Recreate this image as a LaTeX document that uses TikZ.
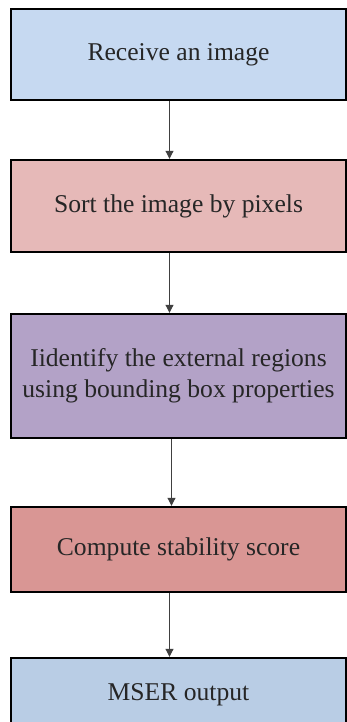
\documentclass[tikz,border=0pt]{standalone}
\usepackage{fontspec}
\setmainfont{Liberation Serif}
\usetikzlibrary{positioning,arrows.meta}
\definecolor{boxblue}{HTML}{C6D9F1}
\definecolor{boxpink}{HTML}{E6B9B8}
\definecolor{boxpurple}{HTML}{B3A2C7}
\definecolor{boxred}{HTML}{D99694}
\definecolor{boxsteel}{HTML}{B9CDE5}
\begin{document}
\begin{tikzpicture}[x=0.5pt,y=0.5pt,
  box/.style={draw,line width=1.2pt,minimum width=167.5pt,align=center,
    text=black!85,font=\fontsize{12.8}{15.5}\selectfont},
  arr/.style={-{Triangle[length=4pt,width=4pt]},line width=0.5pt,black!75}]
  \useasboundingbox (0,0) rectangle (347,722);
  \clip (0,0) rectangle (347,722);
  \node[box,fill=boxblue,minimum height=45.5pt] (receive) at (178.5,667.5) {Receive an image};
  \node[box,fill=boxpink,minimum height=46pt,below=28.8pt of receive] (sort) {Sort the image by pixels};
  \node[box,fill=boxpurple,minimum height=62pt,below=29.8pt of sort] (identify)
    {Iidentify the external regions\\using bounding box properties};
  \node[box,fill=boxred,minimum height=42.5pt,below=33.3pt of identify] (score) {Compute stability score};
  \node[box,fill=boxsteel,minimum height=37pt,below=31.8pt of score] (mser) {MSER output};
  % connectors
  \draw[arr] ([xshift=-4.5pt]receive.south) -- ([xshift=-4.5pt]sort.north);
  \draw[arr] ([xshift=-4.5pt]sort.south) -- ([xshift=-4.5pt]identify.north);
  \draw[arr] ([xshift=-3.5pt]identify.south) -- ([xshift=-3.5pt]score.north);
  \draw[arr] ([xshift=-4.5pt]score.south) -- ([xshift=-4.5pt]mser.north);
\end{tikzpicture}
\end{document}
